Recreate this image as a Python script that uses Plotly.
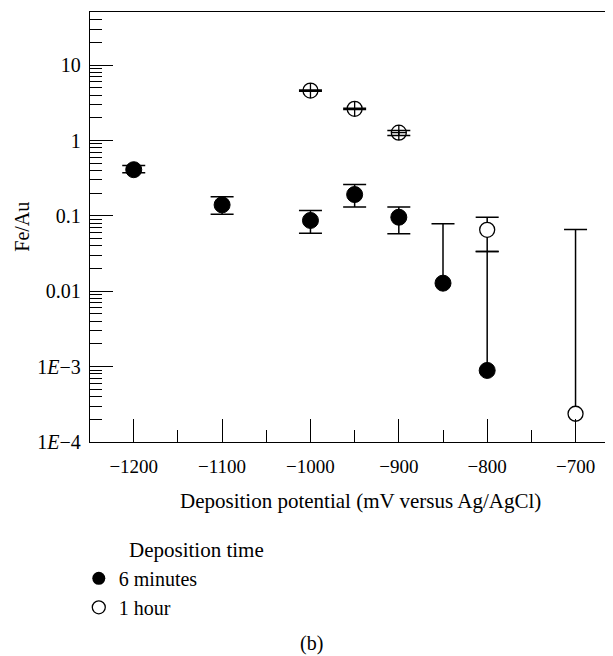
import plotly.graph_objects as go

# ---------------- data ----------------
potential_6min = [-1200, -1100, -1000, -950, -900, -850, -800]
ratio_6min = [0.41, 0.14, 0.087, 0.192, 0.096, 0.0128, 0.00089]
upper_6min = [0.466, 0.18, 0.118, 0.26, 0.131, 0.0785, 0.0337]
lower_6min = [0.373, 0.105, 0.059, 0.131, 0.0578, None, None]

potential_1h = [-1000, -950, -900, -800, -700]
ratio_1h = [4.6, 2.63, 1.27, 0.0653, 0.000237]
upper_1h = [4.69, 2.68, 1.36, 0.096, 0.0659]
lower_1h = [4.51, 2.58, 1.165, 0.0337, None]

x_major = [-1200, -1100, -1000, -900, -800, -700]
x_minor = [-1150, -1050, -950, -850, -750]
y_major = [1e-4, 1e-3, 1e-2, 1e-1, 1, 10]
y_labels = ["1<i>E</i>−4", "1<i>E</i>−3", "0.01", "0.1", "1", "10"]

FONT = "Liberation Serif"
ERR_W = 11.5
ERR_T = 1.5
PW, PH = 523, 430   # plot area size in px

fig = go.Figure()


def split(xs, ys, ups, lows):
    two = [(x, y, u, l) for x, y, u, l in zip(xs, ys, ups, lows) if l is not None]
    one = [(x, y, u) for x, y, u, l in zip(xs, ys, ups, lows) if l is None]
    return two, one


stem_x, stem_y, cap_x, cap_y = [], [], [], []
for xs, ys, ups, lows in [(potential_6min, ratio_6min, upper_6min, lower_6min),
                          (potential_1h, ratio_1h, upper_1h, lower_1h)]:
    two, one = split(xs, ys, ups, lows)
    # two-sided error bars (native)
    fig.add_trace(go.Scatter(
        x=[t[0] for t in two], y=[t[1] for t in two], mode="markers",
        marker=dict(size=1, color="rgba(0,0,0,0)"), showlegend=False, hoverinfo="skip",
        error_y=dict(type="data", symmetric=False,
                     array=[t[2] - t[1] for t in two],
                     arrayminus=[t[1] - t[3] for t in two],
                     color="black", thickness=ERR_T, width=ERR_W)))
    for x, y, u in one:
        stem_x += [x, x, None]
        stem_y += [y, u, None]
        cap_x.append(x)
        cap_y.append(u)

# one-sided error bars: stem + cap at the upper end
fig.add_trace(go.Scatter(x=stem_x, y=stem_y, mode="lines",
                         line=dict(color="black", width=ERR_T),
                         showlegend=False, hoverinfo="skip"))
fig.add_trace(go.Scatter(x=cap_x, y=cap_y, mode="markers",
                         marker=dict(size=1, color="rgba(0,0,0,0)"),
                         showlegend=False, hoverinfo="skip",
                         error_y=dict(type="data", array=[0] * len(cap_x),
                                      color="black", thickness=ERR_T, width=ERR_W)))

# markers
fig.add_trace(go.Scatter(x=potential_6min, y=ratio_6min, mode="markers",
                         marker=dict(size=16, color="black", line=dict(color="black", width=1)),
                         showlegend=False, name="6 minutes"))
fig.add_trace(go.Scatter(x=potential_1h, y=ratio_1h, mode="markers",
                         marker=dict(size=15,
                                     symbol=["circle-cross"] * 3 + ["circle"] * 2,
                                     color=["rgba(0,0,0,0)"] * 3 + ["white"] * 2,
                                     line=dict(color="black", width=1.3)),
                         showlegend=False, name="1 hour"))

# legend entries
fig.add_trace(go.Scatter(x=[None], y=[None], mode="markers", name="6 minutes",
                         marker=dict(size=13, color="black")))
fig.add_trace(go.Scatter(x=[None], y=[None], mode="markers", name="1 hour",
                         marker=dict(size=13, color="white", line=dict(color="black", width=1.3))))

fig.update_layout(
    # page body has an 8px margin: figure is 8px smaller and margins shifted accordingly
    width=605, height=648,
    margin=dict(l=82, r=0, t=4, b=214),
    paper_bgcolor="white", plot_bgcolor="white",
    font=dict(family=FONT, size=19, color="black"),
    showlegend=True,
    legend=dict(x=-0.0243 + 1.5 / PW, y=-0.2914 + 8.5 / PH, xanchor="left", yanchor="top",
                bgcolor="rgba(0,0,0,0)", font=dict(family=FONT, size=20, color="black"),
                tracegroupgap=0),
    xaxis=dict(range=[-1249.5, -657.6], showline=True, linecolor="black", linewidth=1.4,
               mirror=True, showgrid=False, zeroline=False,
               ticks="inside", ticklen=23, tickwidth=1.3, tickcolor="black",
               tickvals=x_major, ticklabelstandoff=7,
               tickfont=dict(family=FONT, size=19, color="black"),
               minor=dict(tickvals=x_minor, ticks="inside", ticklen=12, tickwidth=1.3,
                          tickcolor="black", showgrid=False)),
    yaxis=dict(type="log", range=[-4, 1.705], showline=True, linecolor="black", linewidth=1.4,
               showgrid=False, zeroline=False,
               ticks="inside", ticklen=23, tickwidth=1.3, tickcolor="black",
               tickvals=y_major, ticktext=y_labels, ticklabelstandoff=4,
               tickfont=dict(family=FONT, size=20, color="black"),
               minor=dict(tickvals=[k * 10.0 ** d for d in range(-4, 2) for k in range(2, 10)
                                    if k * 10.0 ** d < 51],
                          ticks="inside", ticklen=12, tickwidth=1.3,
                          tickcolor="black", showgrid=False)),
    annotations=[
        dict(text="Deposition potential (mV versus Ag/AgCl)", xref="paper", yref="paper",
             x=(360 - 90) / PW, y=(441.7 - 501) / PH, xanchor="center", yanchor="middle",
             showarrow=False, font=dict(family=FONT, size=21)),
        dict(text="Fe/Au", xref="paper", yref="paper", x=(21.7 - 90) / PW, y=0.5,
             xanchor="center", yanchor="middle", textangle=-90, showarrow=False,
             font=dict(family=FONT, size=20)),
        dict(text="Deposition time", xref="paper", yref="paper", x=(126.7 - 90) / PW,
             y=(441.7 - 549.3) / PH, xanchor="left", yanchor="middle", showarrow=False,
             font=dict(family=FONT, size=21)),
        dict(text="(b)", xref="paper", yref="paper", x=(311.7 - 90) / PW,
             y=(441.7 - 643) / PH, xanchor="center", yanchor="middle", showarrow=False,
             font=dict(family=FONT, size=20)),
    ],
)

fig.write_html("out.html")
